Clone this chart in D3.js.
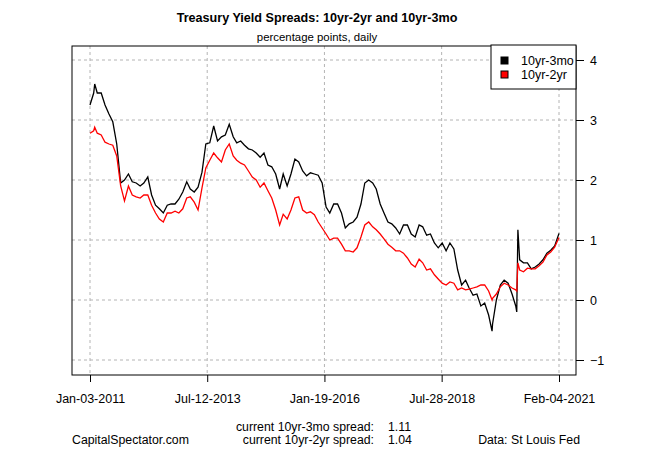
<!DOCTYPE html>
<meta charset="utf-8">
<html lang="en">
<head>
    <title>Treasury Yield Spreads</title>
    <script src="https://cdn.jsdelivr.net/npm/d3@7"></script>
</head>
<style>
    body { margin: 0; background: white; }
    svg { width: 650px; height: 450px; display: block; }
    text { font-family: "Liberation Sans", Arial, sans-serif; font-size: 12px; fill: black; }
    .grid { stroke: #b4b4b4; stroke-width: 1; stroke-dasharray: 3,3; }
</style>
<body>
<svg></svg>
<script>

    // monthly readings, plus a few extra days for the spikes
    const dates = [
        "2011-01-03","2011-02-01","2011-02-09","2011-03-01","2011-04-01","2011-05-01","2011-06-01","2011-07-01","2011-08-01","2011-09-01","2011-10-01","2011-11-01","2011-12-01",
        "2012-01-01","2012-02-01","2012-03-01","2012-04-01","2012-05-01","2012-06-01","2012-07-01","2012-08-01","2012-09-01","2012-10-01","2012-11-01","2012-12-01",
        "2013-01-01","2013-02-01","2013-03-01","2013-04-01","2013-05-01","2013-06-01","2013-07-01","2013-08-01","2013-09-01","2013-10-01","2013-11-01","2013-12-01",
        "2014-01-01","2014-02-01","2014-03-01","2014-04-01","2014-05-01","2014-06-01","2014-07-01","2014-08-01","2014-09-01","2014-10-01","2014-11-01","2014-12-01",
        "2015-01-01","2015-02-01","2015-03-01","2015-04-01","2015-05-01","2015-06-01","2015-07-01","2015-08-01","2015-09-01","2015-10-01","2015-11-01","2015-12-01",
        "2016-01-01","2016-02-01","2016-03-01","2016-04-01","2016-05-01","2016-06-01","2016-07-01","2016-08-01","2016-09-01","2016-10-01","2016-11-01","2016-12-01",
        "2017-01-01","2017-02-01","2017-03-01","2017-04-01","2017-05-01","2017-06-01","2017-07-01","2017-08-01","2017-09-01","2017-10-01","2017-11-01","2017-12-01",
        "2018-01-01","2018-02-01","2018-03-01","2018-04-01","2018-05-01","2018-06-01","2018-07-01","2018-08-01","2018-09-01","2018-10-01","2018-11-01","2018-12-01",
        "2019-01-01","2019-02-01","2019-03-01","2019-04-01","2019-05-01","2019-06-01","2019-07-01","2019-08-01","2019-08-28","2019-09-01","2019-10-01","2019-11-01","2019-12-01",
        "2020-01-01","2020-02-01","2020-03-01","2020-03-09","2020-03-18","2020-04-01","2020-05-01","2020-06-01","2020-07-01","2020-08-01","2020-09-01","2020-10-01","2020-11-01","2020-12-01",
        "2021-01-01","2021-02-04"
    ]

    const spread10y3m = [
        3.25,3.45,3.60,3.45,3.45,3.25,3.10,2.97,2.60,1.95,2.00,2.10,1.97,
        1.95,1.90,1.95,2.05,1.75,1.58,1.52,1.45,1.58,1.60,1.60,1.68,
        1.80,1.97,1.85,1.80,1.88,2.13,2.60,2.62,2.90,2.65,2.72,2.75,
        2.93,2.72,2.62,2.65,2.58,2.52,2.50,2.45,2.38,2.45,2.25,2.22,
        2.10,1.85,2.10,1.90,2.10,2.35,2.30,2.15,2.07,2.12,2.10,2.08,
        1.95,1.55,1.45,1.60,1.60,1.45,1.20,1.27,1.30,1.38,1.60,1.95,
        2.00,1.95,1.85,1.60,1.45,1.30,1.27,1.20,1.10,1.25,1.25,1.10,
        1.05,1.25,1.22,1.08,1.10,0.95,0.87,0.95,0.82,0.95,0.85,0.50,
        0.25,0.33,0.20,0.08,0.10,-0.10,-0.05,-0.25,-0.52,-0.40,0.00,0.25,0.33,
        0.28,0.10,-0.10,-0.20,1.17,0.67,0.62,0.62,0.52,0.55,0.60,0.67,0.78,0.83,
        0.90,1.11
    ]

    const spread10y2y = [
        2.78,2.82,2.88,2.78,2.75,2.63,2.60,2.58,2.40,1.90,1.65,1.90,1.75,
        1.72,1.70,1.75,1.75,1.58,1.45,1.35,1.30,1.45,1.45,1.48,1.45,
        1.52,1.70,1.72,1.63,1.50,1.87,2.20,2.33,2.45,2.37,2.30,2.50,
        2.60,2.40,2.33,2.28,2.25,2.15,2.05,2.00,1.88,1.95,1.82,1.70,
        1.50,1.25,1.43,1.35,1.50,1.70,1.72,1.50,1.45,1.47,1.42,1.30,
        1.20,1.10,1.00,1.03,1.03,0.93,0.82,0.82,0.80,0.87,1.05,1.25,
        1.30,1.22,1.17,1.10,1.02,0.93,0.88,0.82,0.82,0.78,0.70,0.60,
        0.55,0.68,0.62,0.50,0.52,0.42,0.35,0.28,0.25,0.30,0.28,0.17,
        0.20,0.17,0.18,0.20,0.22,0.25,0.25,0.15,0.00,0.03,0.10,0.22,0.28,
        0.25,0.20,0.17,0.15,0.62,0.50,0.47,0.53,0.52,0.52,0.57,0.63,0.75,0.80,
        0.88,1.04
    ]

    const xTickDates = ["2011-01-03","2013-07-12","2016-01-19","2018-07-28","2021-02-04"]
    const yTicks = [-1, 0, 1, 2, 3, 4]
    const seriesNames = ["10yr-3mo", "10yr-2yr"]
    const seriesColors = ["black", "red"]
    const currentVals = ["1.11", "1.04"]

    const parse = d3.timeParse("%Y-%m-%d")
    const fmt = d3.timeFormat("%b-%d-%Y")
    const fontFam = '"Liberation Sans", Arial, sans-serif'

    // plot box as drawn by R
    const box = {left: 72, right: 576, top: 46, bottom: 375}

    const svg = d3.select("svg")

    const x = d3.scaleTime()
        .domain([parse(xTickDates[0]), parse(xTickDates[xTickDates.length - 1])])
        .range([90, 559])
    const y = d3.scaleLinear().domain([-1, 4]).range([360, 60])

    // grid
    svg.append("g").selectAll("line")
        .data(xTickDates)
        .enter().append("line")
        .attr("class", "grid")
        .attr("x1", d => x(parse(d))).attr("x2", d => x(parse(d)))
        .attr("y1", box.top).attr("y2", box.bottom)
    svg.append("g").selectAll("line")
        .data(yTicks)
        .enter().append("line")
        .attr("class", "grid")
        .attr("x1", box.left).attr("x2", box.right)
        .attr("y1", d => y(d)).attr("y2", d => y(d))

    // lines
    const data = dates.map((d, i) => ({date: parse(d), a: spread10y3m[i], b: spread10y2y[i]}))
    const lineA = d3.line().x(d => x(d.date)).y(d => y(d.a))
    const lineB = d3.line().x(d => x(d.date)).y(d => y(d.b))

    svg.append("path").datum(data)
        .attr("d", lineA).attr("fill", "none")
        .attr("stroke", seriesColors[0]).attr("stroke-width", 1.3)
    svg.append("path").datum(data)
        .attr("d", lineB).attr("fill", "none")
        .attr("stroke", seriesColors[1]).attr("stroke-width", 1.3)

    // box
    svg.append("rect")
        .attr("x", box.left).attr("y", box.top)
        .attr("width", box.right - box.left).attr("height", box.bottom - box.top)
        .attr("fill", "none").attr("stroke", "black").attr("stroke-width", 1)

    // right axis
    const yAxis = d3.axisRight(y).tickValues(yTicks).tickFormat(d3.format("d")).tickSize(8).tickPadding(6)
    svg.append("g").attr("transform", `translate(${box.right},0)`).call(yAxis)
        .call(g => g.select(".domain").remove())
        .call(g => g.selectAll("text").style("font-size", "12.5px").style("font-family", fontFam))

    // bottom axis
    const xAxis = d3.axisBottom(x).tickValues(xTickDates.map(parse)).tickFormat(fmt).tickSize(7).tickPadding(12)
    svg.append("g").attr("transform", `translate(0,${box.bottom})`).call(xAxis)
        .call(g => g.select(".domain").remove())
        .call(g => g.selectAll("text").style("font-size", "12.5px").style("font-family", fontFam))

    // legend
    const leg = svg.append("g").attr("transform", "translate(491,45)")
    leg.append("rect").attr("width", 85).attr("height", 44)
        .attr("fill", "white").attr("stroke", "black")
    seriesNames.forEach(function(name, i) {
        leg.append("rect")
            .attr("x", 10).attr("y", 12 + i * 14)
            .attr("width", 7).attr("height", 7)
            .attr("fill", seriesColors[i]).attr("stroke", "black")
        leg.append("text")
            .attr("x", 30).attr("y", 20 + i * 14)
            .style("font-size", "12.5px")
            .text(name)
    })

    // titles
    svg.append("text").attr("x", 317).attr("y", 22)
        .attr("text-anchor", "middle")
        .style("font-weight", "bold").style("font-size", "12.6px")
        .text("Treasury Yield Spreads: 10yr-2yr and 10yr-3mo")
    svg.append("text").attr("x", 317).attr("y", 41)
        .attr("text-anchor", "middle")
        .style("font-size", "11.4px")
        .text("percentage points, daily")

    // footer
    seriesNames.forEach(function(name, i) {
        svg.append("text").attr("x", 374).attr("y", 431 + i * 13)
            .attr("text-anchor", "end")
            .style("font-size", "12.3px")
            .text("current " + name + " spread:")
        svg.append("text").attr("x", 388).attr("y", 431 + i * 13)
            .style("font-size", "12.3px")
            .text(currentVals[i])
    })
    svg.append("text").attr("x", 72).attr("y", 444).style("font-size", "12.3px").text("CapitalSpectator.com")
    svg.append("text").attr("x", 580).attr("y", 444).attr("text-anchor", "end").style("font-size", "12.3px").text("Data: St Louis Fed")

</script>
</body>
</html>
